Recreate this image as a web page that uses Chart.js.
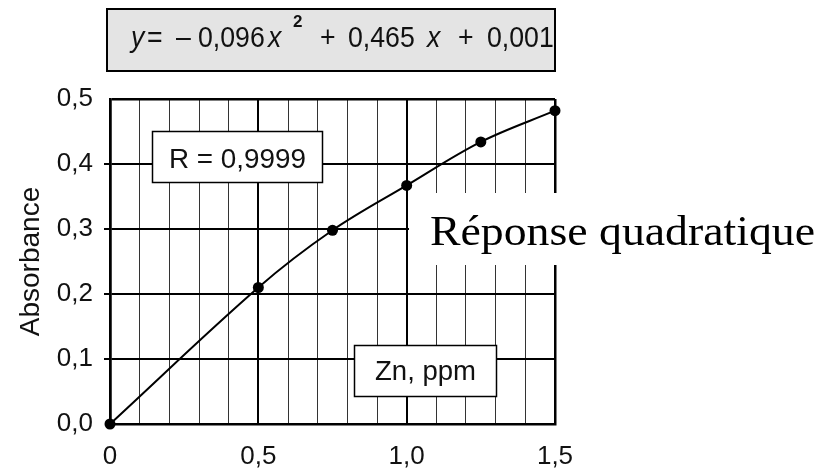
<!DOCTYPE html>
<html><head><meta charset="utf-8">
<script src="https://cdn.jsdelivr.net/npm/chart.js@4/dist/chart.umd.min.js"></script>
<style>html,body{margin:0;padding:0;background:#fff}canvas{display:block}</style>
</head><body>
<canvas id="c" width="823" height="470"></canvas>
<script>
// ---- data ----
const concentrations = [0, 0.5, 0.75, 1.0, 1.25, 1.5];
const absorbances    = [0.0, 0.210, 0.298, 0.367, 0.434, 0.482];
const xTickValues = [0, 0.5, 1.0, 1.5];
const xTickLabels = ['0', '0,5', '1,0', '1,5'];
const yTickLabels = ['0,0', '0,1', '0,2', '0,3', '0,4', '0,5'];
const yAxisTitle = 'Absorbance';
const xAxisTitle = 'Zn, ppm';
const rLabel = 'R = 0,9999';
const equationParts = ['y', '=', '–', '0,096', 'x', '2', '+', '0,465', 'x', '+', '0,001'];
const noteText = 'Réponse quadratique';

// ---- layout / style for annotations ----
const eqX      = [131, 147, 176, 198, 268, 293, 320, 348, 427, 458, 487];
const eqStyle  = ['i', 'n', 'n', 'n', 'i', 's', 'n', 'n', 'i', 'n', 'n'];

function isMajorX(v) { return Math.abs(v * 2 - Math.round(v * 2)) < 1e-6; }
function isEdgeX(v) { return Math.abs(v) < 1e-6 || Math.abs(v - 1.5) < 1e-6; }

function drawBox(ctx, x, y, w, h, fill, lw) {
  ctx.fillStyle = fill;
  ctx.fillRect(x, y, w, h);
  ctx.strokeStyle = '#000';
  ctx.lineWidth = lw;
  ctx.strokeRect(x, y, w, h);
}
function fitText(ctx, txt, x, y, width) {
  const w = ctx.measureText(txt).width;
  ctx.save();
  ctx.translate(x, y);
  ctx.scale(width / w, 1);
  ctx.fillText(txt, 0, 0);
  ctx.restore();
}

const overlay = {
  id: 'overlay',
  afterDatasetsDraw(chart) {
    const ctx = chart.ctx;
    ctx.save();
    ctx.textBaseline = 'alphabetic';
    ctx.textAlign = 'left';
    // R box
    drawBox(ctx, 152.5, 131.5, 170, 51, '#fff', 1.5);
    ctx.fillStyle = '#111';
    ctx.font = '28px "Liberation Sans", Arial, sans-serif';
    fitText(ctx, rLabel, 169, 168, 137);
    // Zn box
    drawBox(ctx, 354.5, 345.5, 142, 51, '#fff', 1.5);
    ctx.fillStyle = '#111';
    ctx.font = '28px "Liberation Sans", Arial, sans-serif';
    fitText(ctx, xAxisTitle, 375, 380, 101);
    // note
    ctx.fillStyle = '#fff';
    ctx.fillRect(409, 193, 414, 72);
    ctx.fillStyle = '#000';
    ctx.font = '42px "Liberation Serif", serif';
    fitText(ctx, noteText, 430, 245, 385);
    ctx.restore();
  },
  afterDraw(chart) {
    const ctx = chart.ctx;
    ctx.save();
    drawBox(ctx, 107, 9, 448, 62, '#e4e4e4', 2);
    ctx.fillStyle = '#111';
    ctx.textBaseline = 'alphabetic';
    equationParts.forEach((p, i) => {
      const st = eqStyle[i];
      ctx.save();
      if (st === 's') {
        ctx.font = 'bold 17px "Liberation Sans", Arial, sans-serif';
        ctx.translate(eqX[i], 27);
      } else {
        ctx.font = (st === 'i' ? 'italic ' : '') + '29px "Liberation Sans", Arial, sans-serif';
        ctx.translate(eqX[i], 47);
        ctx.scale(0.92, 1);
      }
      ctx.fillText(p, 0, 0);
      ctx.restore();
    });
    ctx.restore();
  }
};

const tickFont = { family: '"Liberation Sans", Arial, sans-serif', size: 26 };

new Chart(document.getElementById('c'), {
  type: 'scatter',
  data: {
    datasets: [{
      data: concentrations.map((x, i) => ({ x: x, y: absorbances[i] })),
      showLine: true,
      borderColor: '#000',
      borderWidth: 2,
      backgroundColor: '#000',
      pointBackgroundColor: '#000',
      pointBorderColor: '#000',
      pointRadius: 5.5,
      pointBorderWidth: 0,
      tension: 0.35,
      clip: false
    }]
  },
  options: {
    responsive: false,
    animation: false,
    devicePixelRatio: 1,
    layout: { padding: { top: 99, right: 268, left: 0, bottom: 0 } },
    plugins: { legend: { display: false }, tooltip: { enabled: false } },
    scales: {
      x: {
        type: 'linear', min: 0, max: 1.5,
        afterFit(s) { s.height = 46; },
        ticks: {
          stepSize: 0.1, autoSkip: false, maxRotation: 0, padding: 17,
          color: '#111', font: tickFont,
          callback(v) {
            const i = xTickValues.findIndex(t => Math.abs(t - v) < 1e-6);
            return i >= 0 ? xTickLabels[i] : '';
          }
        },
        grid: {
          drawTicks: false,
          color: c => isMajorX(c.tick.value) ? '#000' : '#333',
          lineWidth: c => isEdgeX(c.tick.value) ? 2.5 : (isMajorX(c.tick.value) ? 2 : 1)
        },
        border: { display: true, color: '#000', width: 2.5 }
      },
      y: {
        min: 0, max: 0.5,
        afterFit(s) { s.width = 110; },
        title: {
          display: true, text: yAxisTitle, color: '#111',
          font: { family: '"Liberation Sans", Arial, sans-serif', size: 28 },
          padding: { top: 14, bottom: 0 }
        },
        ticks: {
          stepSize: 0.1, padding: 11, color: '#111', font: tickFont,
          callback(v, i) { return yTickLabels[i]; }
        },
        grid: {
          drawTicks: true, tickLength: 6,
          color: '#000',
          tickColor: c => (c.index === 0 || c.index === 5) ? 'rgba(0,0,0,0)' : '#000',
          lineWidth: c => c.index === 5 ? 2.5 : 2
        },
        border: { display: true, color: '#000', width: 2.5 }
      }
    }
  },
  plugins: [overlay]
});
</script>
</body></html>
